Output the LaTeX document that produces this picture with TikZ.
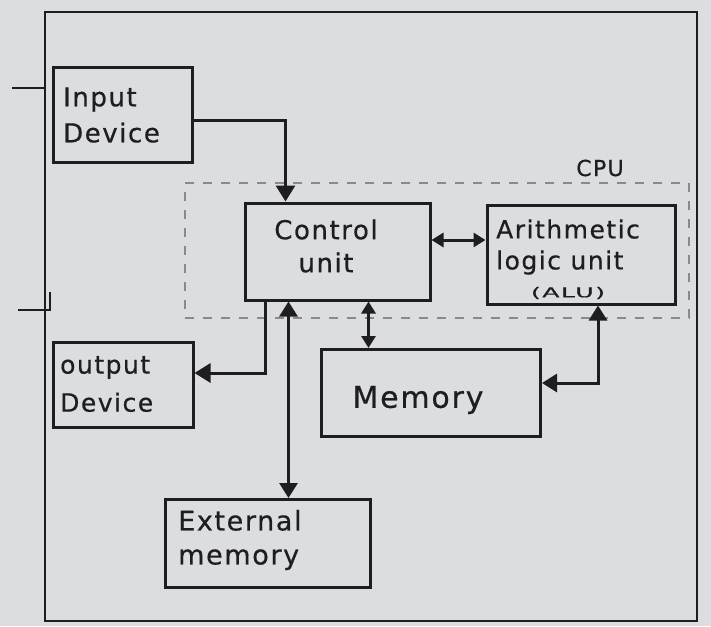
\documentclass[tikz,border=0pt]{standalone}
\usepackage{fontspec}
\setmainfont{DejaVu Sans}[LetterSpace=6,FakeBold=0.6]
\usetikzlibrary{arrows.meta,calc}
\definecolor{bg}{HTML}{DCDDE0}
\definecolor{ink}{HTML}{1E1E1E}
\definecolor{dashc}{HTML}{8A8A8A}
\tikzset{
  box/.style={draw=ink,line width=3pt,rectangle,inner sep=0pt},
  lbl/.style={text=ink,inner sep=0pt,align=left,font=\fontsize{26}{36}\selectfont},
  arr/.style={draw=ink,line width=3pt,-{Triangle[length=16pt,width=19pt]}},
  dbl/.style={draw=ink,line width=3pt,{Triangle[length=15pt,width=18pt]}-{Triangle[length=15pt,width=18pt]}},
  dbls/.style={draw=ink,line width=3pt,{Triangle[length=12pt,width=14pt]}-{Triangle[length=12pt,width=14pt]}},
  cpubox/.style={draw=dashc,line width=2pt,dash pattern=on 9pt off 9pt,rectangle,inner sep=0pt},
  frame/.style={draw=ink,line width=2.8pt,rectangle,inner sep=0pt},
}
\begin{document}
\begin{tikzpicture}[x=1pt,y=-1pt]
\fill[bg] (0,0) rectangle (711,626);
\useasboundingbox (0,0) rectangle (711,626);
% outer frame
\node[frame,minimum width=652pt,minimum height=609pt] (fr) at (371,316.5) {};
\coordinate (t1) at (12,88);
\coordinate (t2) at (18,310);
\draw[ink,line width=2.8pt] (t1) -- (t1 -| fr.west);
\draw[ink,line width=2.8pt] (t2) -- ++(32,0) -- ++(0,-18);
% CPU dashed region
\node[cpubox,minimum width=504pt,minimum height=135pt] (cpu) at (437,250.5) {};
\node[lbl,font=\fontsize{22}{24}\selectfont] (cpul) at (600,168) {CPU};
% boxes
\node[box,minimum width=139pt,minimum height=95pt] (in) at (122.5,114.5) {};
\node[lbl,anchor=west] (int) at (63,115) {Input\\Device};
\node[box,minimum width=185pt,minimum height=97pt] (cu) at (337.5,251.5) {};
\node[lbl,align=center,font=\fontsize{26}{33}\selectfont] (cut) at (326,246) {Control\\unit};
\node[box,minimum width=188pt,minimum height=99pt] (alu) at (581,254.5) {};
\node[lbl,anchor=west,font=\fontsize{25}{31}\selectfont] (alut) at (496,247) {Arithmetic\\logic unit};
\node[lbl] (alus) at (568,293) {\scalebox{1.4}[0.75]{\fontsize{18}{20}\selectfont (ALU)}};
\node[box,minimum width=140pt,minimum height=85pt] (out) at (123,384.5) {};
\node[lbl,anchor=west,font=\fontsize{25}{38}\selectfont] (outt) at (60,384) {output\\Device};
\node[box,minimum width=219pt,minimum height=87pt] (mem) at (431,393) {};
\node[lbl,font=\fontsize{30}{36}\selectfont] (memt) at (418,400) {Memory};
\node[box,minimum width=205pt,minimum height=88pt] (ext) at (267.5,543.5) {};
\node[lbl,anchor=west,font=\fontsize{27}{34}\selectfont] (extt) at (178,540) {External\\memory};
% connectors
\draw[arr] ([yshift=-5.5pt]in.east) -| ([xshift=42pt]cu.north west);
\coordinate (p1) at ([yshift=11.5pt]cu.east);
\draw[dbls] (p1) -- (p1 -| alu.west);
\coordinate (p2) at ([xshift=125pt]cu.south west);
\draw[dbls] (p2) -- (p2 |- mem.north);
\draw[dbl] ([xshift=17pt]alu.south) |- ([yshift=10pt]mem.east);
\draw[arr] ([xshift=22pt]cu.south west) |- ([yshift=11.5pt]out.east);
\coordinate (p4) at ([xshift=45pt]cu.south west);
\draw[dbl] (p4) -- (p4 |- ext.north);
\end{tikzpicture}
\end{document}
